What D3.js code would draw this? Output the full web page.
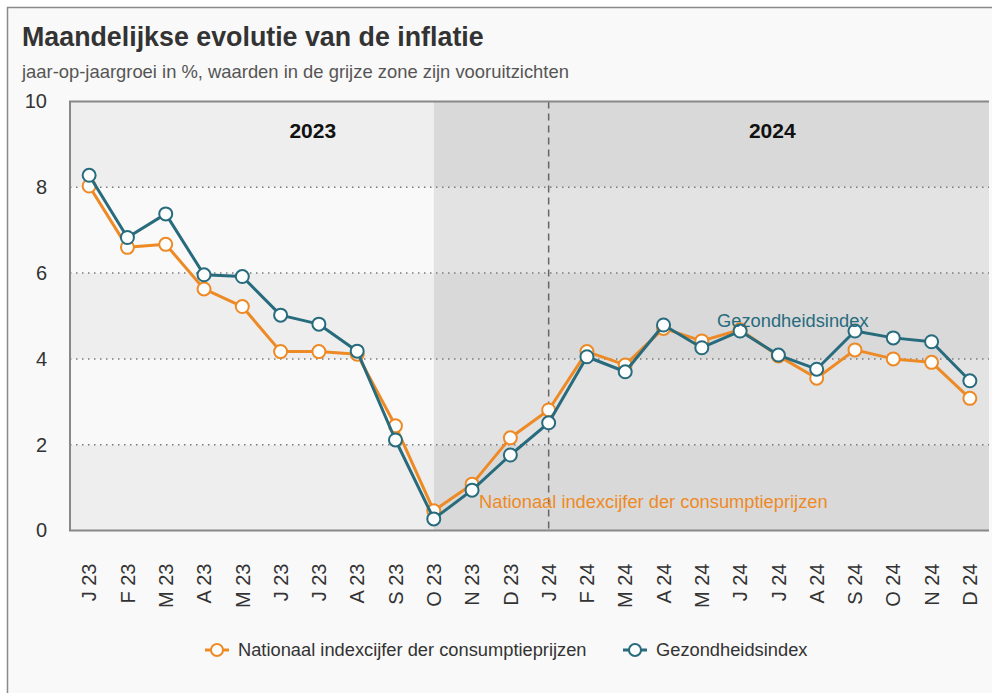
<!DOCTYPE html>
<html>
<head>
<meta charset="utf-8">
<script src="https://cdn.jsdelivr.net/npm/d3@7"></script>
<style>
  body { margin: 0; background: #fff; }
  svg { display: block; font-family: "Liberation Sans", Arial, sans-serif; }
</style>
</head>
<body>
<div id="chart"></div>
<script>
// maanden (J 23 ... D 24)
var months = ["J 23","F 23","M 23","A 23","M 23","J 23","J 23","A 23","S 23","O 23","N 23","D 23",
              "J 24","F 24","M 24","A 24","M 24","J 24","J 24","A 24","S 24","O 24","N 24","D 24"];
var nationaal = [8.03,6.60,6.67,5.63,5.22,4.17,4.17,4.11,2.44,0.46,1.08,2.16,
                 2.81,4.17,3.86,4.71,4.42,4.68,4.07,3.55,4.21,4.00,3.92,3.08];
var gezondheid = [8.28,6.83,7.38,5.96,5.92,5.02,4.81,4.18,2.11,0.27,0.94,1.76,
                  2.51,4.05,3.70,4.79,4.26,4.65,4.09,3.76,4.65,4.49,4.40,3.49];
var yTicks = [0,2,4,6,8,10];
var years = ["2023","2024"];
var forecastFrom = 9;   // O 23: begin grijze zone
var yearBreak = 12;     // J 24

var W = 992, H = 693;
var m = {left: 70, right: 3, top: 101.5, bottom: 162.5};
var orange = "#ee8a25", teal = "#276b7d";

var svg = d3.select("#chart").append("svg")
    .attr("width", W).attr("height", H);

// kader
svg.append("rect")
    .attr("x", 7.5).attr("y", 7.5)
    .attr("width", W).attr("height", H)
    .attr("fill", "#f9f9f9").attr("stroke", "#8a8a8a").attr("stroke-width", 1.5);

svg.append("text")
    .attr("x", 22).attr("y", 46)
    .attr("font-size", 26.8).attr("font-weight", "bold").attr("fill", "#333")
    .text("Maandelijkse evolutie van de inflatie");
svg.append("text")
    .attr("x", 22).attr("y", 78)
    .attr("font-size", 18.4).attr("fill", "#555")
    .text("jaar-op-jaargroei in %, waarden in de grijze zone zijn vooruitzichten");

var x = d3.scaleBand()
    .domain(d3.range(months.length))
    .range([m.left, W - m.right])
    .padding(0);
var y = d3.scaleLinear()
    .domain([0, 10])
    .range([H - m.bottom, m.top]);
var cx = function(i){ return x(i) + x.bandwidth() / 2; };

var x0 = m.left, x1 = W - m.right, xf = cx(forecastFrom);

// achtergrondbanden
var bands = d3.pairs(yTicks);
var g = svg.append("g");
bands.forEach(function(b, i){
  g.append("rect")
    .attr("x", x0).attr("y", y(b[1]))
    .attr("width", xf - x0).attr("height", y(b[0]) - y(b[1]))
    .attr("fill", i % 2 == 0 ? "#eeeeee" : "#f9f9f9");
  g.append("rect")
    .attr("x", xf).attr("y", y(b[1]))
    .attr("width", x1 - xf).attr("height", y(b[0]) - y(b[1]))
    .attr("fill", i % 2 == 0 ? "#d9d9d9" : "#e3e3e3");
});

// rasterlijnen
svg.append("g")
  .selectAll("line")
  .data(yTicks.slice(1, -1))
  .join("line")
    .attr("x1", x0).attr("x2", x1)
    .attr("y1", d => y(d)).attr("y2", d => y(d))
    .attr("stroke", "#7a7a7a").attr("stroke-width", 1.5)
    .attr("stroke-dasharray", "1.5,4.5");

// scheiding jaren
svg.append("line")
    .attr("x1", cx(yearBreak)).attr("x2", cx(yearBreak))
    .attr("y1", y(10)).attr("y2", y(0))
    .attr("stroke", "#666").attr("stroke-width", 1.5)
    .attr("stroke-dasharray", "7,5");

// kader plot
svg.append("path")
    .attr("d", "M" + x1 + "," + y(10) + "H" + x0 + "V" + y(0) + "H" + x1)
    .attr("fill", "none").attr("stroke", "#888").attr("stroke-width", 2);

// jaarlabels
svg.append("g")
  .selectAll("text")
  .data(years)
  .join("text")
    .attr("x", (d, i) => x(i * 12) + 6 * x.step() + 13)
    .attr("y", y(10) + 36)
    .attr("text-anchor", "middle")
    .attr("font-size", 21).attr("font-weight", "bold").attr("fill", "#111")
    .text(d => d);

// y-as
var yAxis = svg.append("g")
    .attr("transform", "translate(" + 47 + ",0)")
    .call(d3.axisLeft(y).tickValues(yTicks).tickSize(0).tickPadding(0));
yAxis.select(".domain").remove();
yAxis.selectAll("text").attr("font-size", 20).attr("fill", "#333")
    .attr("font-family", "Liberation Sans, Arial, sans-serif");

// x-as
var xAxis = svg.append("g")
    .attr("transform", "translate(0," + (y(0) + 33) + ")")
    .call(d3.axisBottom(x).tickFormat(i => months[i]).tickSize(0));
xAxis.select(".domain").remove();
xAxis.selectAll("text")
    .attr("font-size", 20).attr("fill", "#333")
    .attr("font-family", "Liberation Sans, Arial, sans-serif")
    .attr("transform", "rotate(-90)")
    .attr("text-anchor", "end")
    .attr("x", 0).attr("y", 0).attr("dy", "0.36em");

// reeksen
var line = d3.line()
    .x((d, i) => cx(i))
    .y(d => y(d));

function serie(values, color) {
  var s = svg.append("g");
  s.append("path")
    .datum(values)
    .attr("d", line)
    .attr("fill", "none").attr("stroke", color)
    .attr("stroke-width", 3).attr("stroke-linejoin", "round");
  s.selectAll("circle")
    .data(values)
    .join("circle")
      .attr("cx", (d, i) => cx(i)).attr("cy", d => y(d))
      .attr("r", 6.5)
      .attr("fill", "#fcfdfd").attr("stroke", color).attr("stroke-width", 2);
}
serie(nationaal, orange);
serie(gezondheid, teal);

// labels in de grafiek
svg.append("text")
    .attr("x", cx(17) - 23).attr("y", y(4.75))
    .attr("font-size", 18.3).attr("fill", teal)
    .text("Gezondheidsindex");
svg.append("text")
    .attr("x", cx(10) + 7).attr("y", y(0.52))
    .attr("font-size", 18.3).attr("fill", orange)
    .text("Nationaal indexcijfer der consumptieprijzen");

// legende
var legend = [
  {name: "Nationaal indexcijfer der consumptieprijzen", color: orange, x: 205},
  {name: "Gezondheidsindex", color: teal, x: 623}
];
var lg = svg.append("g")
  .selectAll("g")
  .data(legend)
  .join("g")
    .attr("transform", d => "translate(" + d.x + ",650)");
lg.append("line")
    .attr("x1", 0).attr("x2", 24)
    .attr("stroke", d => d.color).attr("stroke-width", 3);
lg.append("circle")
    .attr("cx", 12).attr("r", 6)
    .attr("fill", "#fcfdfd").attr("stroke", d => d.color).attr("stroke-width", 2);
lg.append("text")
    .attr("x", 33).attr("dy", "0.35em")
    .attr("font-size", 18.3).attr("fill", "#333")
    .text(d => d.name);
</script>
</body>
</html>
